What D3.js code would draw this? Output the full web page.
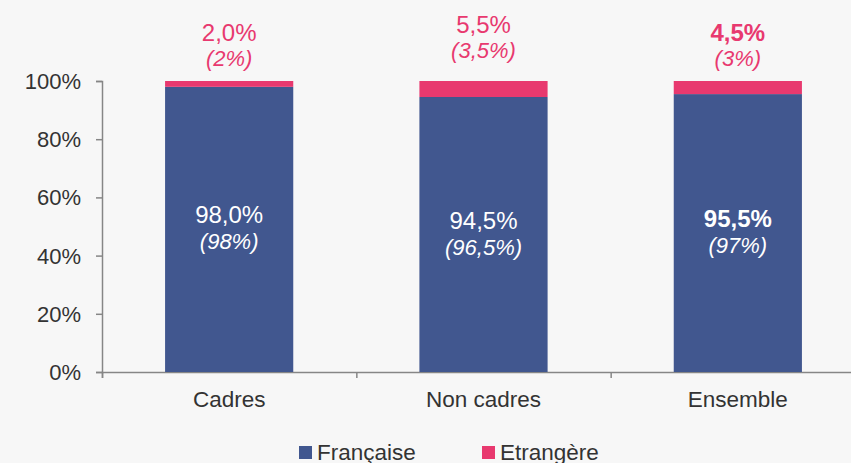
<!DOCTYPE html>
<html>
<head>
<meta charset="utf-8">
<script src="https://cdn.jsdelivr.net/npm/d3@7"></script>
<style>
  body { margin: 0; background: #f7f7f7; }
  svg { display: block; font-family: "Liberation Sans", Arial, sans-serif; }
</style>
</head>
<body>
<div id="viz"></div>
<script>
// data
const categories = ['Cadres', 'Non cadres', 'Ensemble'];
const francaise = [98.0, 94.5, 95.5];
const etrangere = [2.0, 5.5, 4.5];
// values in brackets (previous figures)
const francaisePrev = [98, 96.5, 97];
const etrangerePrev = [2, 3.5, 3];
const yTicks = [0, 20, 40, 60, 80, 100];
const seriesNames = ['Française', 'Etrangère'];
const boldCategory = 'Ensemble';
// small vertical nudge of the top labels, as in the original
const topLabelShift = [0, -8, 0];

const width = 851, height = 463;
const margin = {top: 81, right: -14, bottom: 91, left: 102};

const blue = '#41578f', pink = '#e8396f';
const colors = [blue, pink];

const fr = d3.formatLocale({decimal: ',', thousands: ' ', grouping: [3], currency: ['', '€']});
const fmt1 = fr.format('.1f');
const fmtP = fr.format('~f');

const svg = d3.select('#viz').append('svg')
  .attr('width', width)
  .attr('height', height);

svg.append('rect').attr('width', width).attr('height', height).attr('fill', '#f7f7f7');

const x = d3.scaleBand()
  .domain(categories)
  .range([margin.left, width - margin.right])
  .paddingInner(0.496)
  .paddingOuter(0.248);

const y = d3.scaleLinear()
  .domain([0, 100])
  .range([height - margin.bottom, margin.top]);

// y axis
const yAxis = svg.append('g')
  .attr('transform', 'translate(' + margin.left + ',0)')
  .call(d3.axisLeft(y).tickValues(yTicks).tickSize(6).tickPadding(15).tickFormat(d => d + '%'));
yAxis.select('.domain').attr('stroke', '#868686').attr('stroke-width', 1.5);
yAxis.selectAll('.tick line').attr('stroke', '#868686').attr('stroke-width', 1.5);
yAxis.selectAll('.tick text').attr('fill', '#333').style('font-size', '22px').attr('dy', '0.34em');

// x axis (ticks between categories)
const xBounds = d3.scaleLinear().domain([0, categories.length]).range([margin.left, margin.left + x.step() * categories.length]);
const xAxis = svg.append('g')
  .attr('transform', 'translate(0,' + y(0) + ')')
  .call(d3.axisBottom(xBounds).ticks(categories.length).tickSize(6).tickFormat(''));
xAxis.select('.domain').attr('stroke', '#868686').attr('stroke-width', 1.5);
xAxis.selectAll('.tick line').attr('stroke', '#868686').attr('stroke-width', 1.5);

svg.append('g').selectAll('text')
  .data(categories)
  .enter().append('text')
  .attr('x', d => x(d) + x.bandwidth() / 2)
  .attr('y', y(0) + 35)
  .attr('text-anchor', 'middle')
  .attr('fill', '#333')
  .style('font-size', '22.5px')
  .text(d => d);

// stacked bars
const rows = categories.map((c, i) => ({cat: c, fr: francaise[i], et: etrangere[i], frP: francaisePrev[i], etP: etrangerePrev[i], i: i}));

svg.append('g').selectAll('rect')
  .data(rows)
  .enter().append('rect')
  .attr('x', d => x(d.cat))
  .attr('width', x.bandwidth())
  .attr('y', d => y(d.fr))
  .attr('height', d => y(0) - y(d.fr))
  .attr('fill', blue);

svg.append('g').selectAll('rect')
  .data(rows)
  .enter().append('rect')
  .attr('x', d => x(d.cat))
  .attr('width', x.bandwidth())
  .attr('y', d => y(d.fr + d.et))
  .attr('height', d => y(d.fr) - y(d.fr + d.et))
  .attr('fill', pink);

// labels inside the blue part
const inner = svg.append('g').selectAll('g')
  .data(rows)
  .enter().append('g')
  .attr('transform', d => 'translate(' + (x(d.cat) + x.bandwidth() / 2) + ',' + ((y(d.fr) + y(0)) / 2) + ')');
inner.append('text')
  .attr('y', -6)
  .attr('text-anchor', 'middle')
  .attr('fill', '#fff')
  .style('font-size', '24px')
  .style('font-weight', d => d.cat == boldCategory ? 'bold' : 'normal')
  .text(d => fmt1(d.fr) + '%');
inner.append('text')
  .attr('y', 20)
  .attr('text-anchor', 'middle')
  .attr('fill', '#fff')
  .style('font-size', '22px')
  .style('font-style', 'italic')
  .text(d => '(' + fmtP(d.frP) + '%)');

// labels above the bars
const topLabels = svg.append('g').selectAll('g')
  .data(rows)
  .enter().append('g')
  .attr('transform', d => 'translate(' + (x(d.cat) + x.bandwidth() / 2) + ',' + (y(d.fr + d.et) + topLabelShift[d.i]) + ')');
topLabels.append('text')
  .attr('y', -40)
  .attr('text-anchor', 'middle')
  .attr('fill', pink)
  .style('font-size', '24px')
  .style('font-weight', d => d.cat == boldCategory ? 'bold' : 'normal')
  .text(d => fmt1(d.et) + '%');
topLabels.append('text')
  .attr('y', -15)
  .attr('text-anchor', 'middle')
  .attr('fill', pink)
  .style('font-size', '22px')
  .style('font-style', 'italic')
  .text(d => '(' + fmtP(d.etP) + '%)');

// legend
const legend = svg.append('g').selectAll('g')
  .data(seriesNames)
  .enter().append('g')
  .attr('transform', (d, i) => 'translate(' + (299 + i * 183) + ',446)');
legend.append('rect')
  .attr('width', 13)
  .attr('height', 13)
  .attr('fill', (d, i) => colors[i]);
legend.append('text')
  .attr('x', 18)
  .attr('y', 14)
  .attr('fill', '#333')
  .style('font-size', '22.5px')
  .text(d => d);
</script>
</body>
</html>
